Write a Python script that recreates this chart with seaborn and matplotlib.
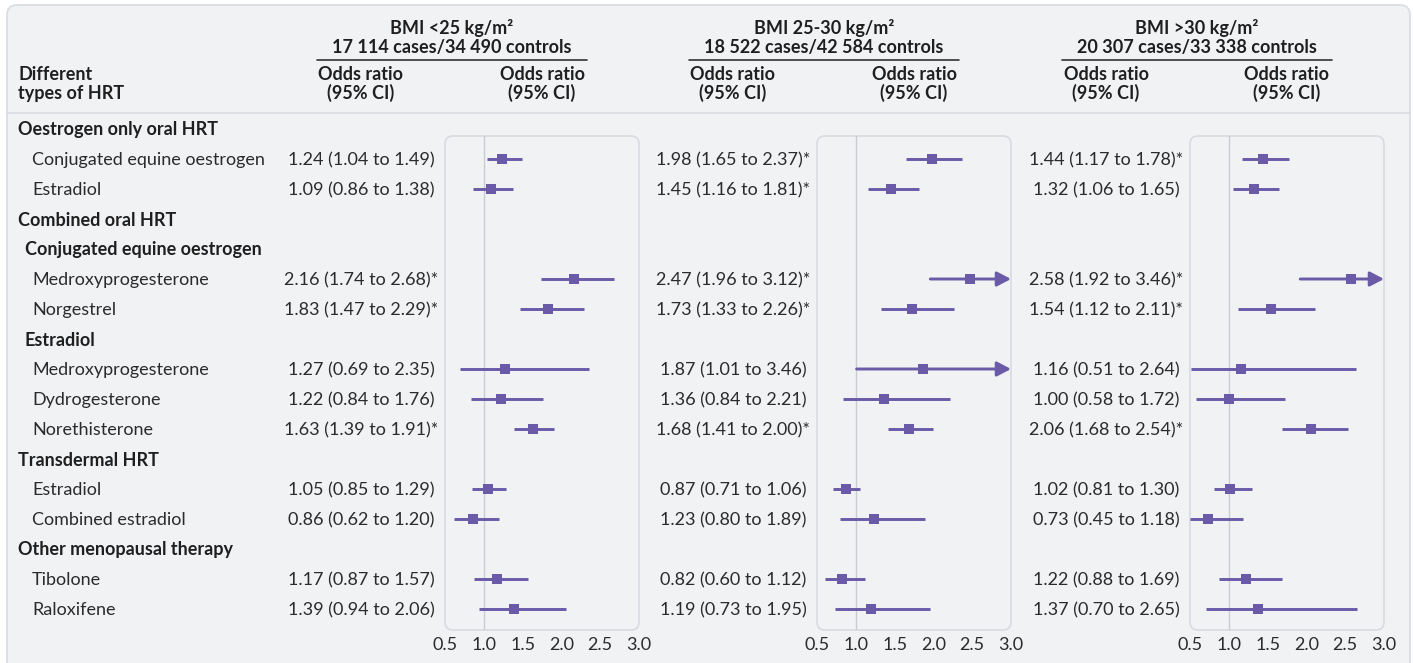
import pandas as pd
import seaborn as sns
import matplotlib.pyplot as plt
from matplotlib.patches import FancyBboxPatch

# rows of the table: (label, kind) kind h=group header, s=subgroup, i=item
row_labels = ["Oestrogen only oral HRT", "Conjugated equine oestrogen", "Estradiol",
              "Combined oral HRT", "Conjugated equine oestrogen", "Medroxyprogesterone",
              "Norgestrel", "Estradiol", "Medroxyprogesterone", "Dydrogesterone",
              "Norethisterone", "Transdermal HRT", "Estradiol", "Combined estradiol",
              "Other menopausal therapy", "Tibolone", "Raloxifene"]
row_kinds = ["h", "i", "i", "h", "s", "i", "i", "s", "i", "i", "i", "h", "i", "i", "h", "i", "i"]
item_rows = [1, 2, 5, 6, 8, 9, 10, 12, 13, 15, 16]

panel_titles = ["BMI <25 kg/m\u00b2", "BMI 25-30 kg/m\u00b2", "BMI >30 kg/m\u00b2"]
panel_counts = ["17 114 cases/34 490 controls", "18 522 cases/42 584 controls",
                "20 307 cases/33 338 controls"]

or_low = [1.24, 1.09, 2.16, 1.83, 1.27, 1.22, 1.63, 1.05, 0.86, 1.17, 1.39]
lo_low = [1.04, 0.86, 1.74, 1.47, 0.69, 0.84, 1.39, 0.85, 0.62, 0.87, 0.94]
hi_low = [1.49, 1.38, 2.68, 2.29, 2.35, 1.76, 1.91, 1.29, 1.20, 1.57, 2.06]
sig_low = [0, 0, 1, 1, 0, 0, 1, 0, 0, 0, 0]

or_mid = [1.98, 1.45, 2.47, 1.73, 1.87, 1.36, 1.68, 0.87, 1.23, 0.82, 1.19]
lo_mid = [1.65, 1.16, 1.96, 1.33, 1.01, 0.84, 1.41, 0.71, 0.80, 0.60, 0.73]
hi_mid = [2.37, 1.81, 3.12, 2.26, 3.46, 2.21, 2.00, 1.06, 1.89, 1.12, 1.95]
sig_mid = [1, 1, 1, 1, 0, 0, 1, 0, 0, 0, 0]

or_high = [1.44, 1.32, 2.58, 1.54, 1.16, 1.00, 2.06, 1.02, 0.73, 1.22, 1.37]
lo_high = [1.17, 1.06, 1.92, 1.12, 0.51, 0.58, 1.68, 0.81, 0.45, 0.88, 0.70]
hi_high = [1.78, 1.65, 3.46, 2.11, 2.64, 1.72, 2.54, 1.30, 1.18, 1.69, 2.65]
sig_high = [1, 0, 1, 1, 0, 0, 1, 0, 0, 0, 0]

ticks = [0.5, 1.0, 1.5, 2.0, 2.5, 3.0]

frames = []
for p, (o, l, h, s) in enumerate([(or_low, lo_low, hi_low, sig_low),
                                  (or_mid, lo_mid, hi_mid, sig_mid),
                                  (or_high, lo_high, hi_high, sig_high)]):
    frames.append(pd.DataFrame({"panel": p, "row": item_rows, "or": o, "lo": l, "hi": h, "sig": s}))
df = pd.concat(frames, ignore_index=True)

sns.set_style("white")
plt.rcParams["font.family"] = ["Lato", "DejaVu Sans"]
FS = 13
TXT = "#2b2b2b"
BOLD = "#1f1f1f"
PURPLE = "#6A5AA8"
BG = "#F1F2F4"
EDGE = "#D8DBE0"

fig = plt.figure(figsize=(14.13, 6.63), dpi=100)
bg = fig.add_axes([0, 0, 1, 1])
bg.set_xlim(0, 1413)
bg.set_ylim(663, 0)
bg.axis("off")
bg.add_patch(FancyBboxPatch((7, 5), 1403, 700, boxstyle="round,pad=0,rounding_size=10",
                            fc=BG, ec=EDGE, lw=1.2))
bg.plot([7, 1410], [113, 113], color=EDGE, lw=1.2)

def ry(r):
    return 130 + 30 * r

bg.text(18, 74, "Different", fontsize=FS, fontweight="bold", color=BOLD, va="center")
bg.text(18, 93, "types of HRT", fontsize=FS, fontweight="bold", color=BOLD, va="center")
for r, (lab, k) in enumerate(zip(row_labels, row_kinds)):
    x = {"h": 18, "s": 25, "i": 32}[k]
    bg.text(x, ry(r), lab, fontsize=FS, color=BOLD if k != "i" else TXT,
            fontweight="bold" if k != "i" else "normal", va="center")

lefts = [445, 817, 1190]
W = 194
top, bot = 136, 630
for p, left in enumerate(lefts):
    cx = left + 7
    bg.text(cx, 28, panel_titles[p], fontsize=FS, fontweight="bold", color=BOLD, ha="center", va="center")
    bg.text(cx, 47, panel_counts[p], fontsize=FS, fontweight="bold", color=BOLD, ha="center", va="center")
    bg.plot([left - 128, left + 142], [60, 60], color="#333333", lw=1.2)
    for xc in (left - 84, left + W / 2):
        bg.text(xc, 74, "Odds ratio", fontsize=FS, fontweight="bold", color=BOLD, ha="center", va="center")
        bg.text(xc, 93, "(95% CI)", fontsize=FS, fontweight="bold", color=BOLD, ha="center", va="center")
    bg.add_patch(FancyBboxPatch((left, top), W, bot - top, boxstyle="round,pad=0,rounding_size=8",
                                fc="none", ec=EDGE, lw=1.2))

    sub = df[df["panel"] == p]
    for _, d in sub.iterrows():
        s = f"{d['or']:.2f} ({d['lo']:.2f} to {d['hi']:.2f})" + ("*" if d["sig"] else "")
        bg.text(left - 84, ry(d["row"]), s, fontsize=FS, color=TXT, ha="center", va="center")

    ax = fig.add_axes([left / 1413, (663 - bot) / 663, W / 1413, (bot - top) / 663])
    ax.set_facecolor("none")
    for sp in ax.spines.values():
        sp.set_visible(False)
    ax.set_xlim(0.5, 3.0)
    ax.set_ylim((bot - 129) / 30, (top - 129) / 30)
    ax.axvline(1.0, color="#C9CCD1", lw=1, zorder=1)
    for _, d in sub.iterrows():
        lo = max(d["lo"], 0.5)
        if d["hi"] > 3.0:
            ax.annotate("", xy=(3.0, d["row"]), xytext=(lo, d["row"]), annotation_clip=False,
                        arrowprops=dict(arrowstyle="-|>,head_length=0.42,head_width=0.22",
                                        color=PURPLE, lw=2.1, mutation_scale=20,
                                        shrinkA=0, shrinkB=0), zorder=2)
        else:
            ax.hlines(d["row"], lo, d["hi"], color=PURPLE, lw=2.1, zorder=2)
    sns.scatterplot(data=sub, x="or", y="row", marker="s", s=48, color=PURPLE,
                    linewidth=0, ax=ax, zorder=3, legend=False)
    ax.set_xticks(ticks)
    ax.set_xticklabels([f"{t:.1f}" for t in ticks])
    ax.set_yticks([])
    ax.set_xlabel("")
    ax.set_ylabel("")
    ax.tick_params(axis="x", direction="in", length=4, color="#C9CCD1", labelsize=FS,
                   labelcolor=TXT, pad=5)

fig.savefig("out.png", dpi=100)
